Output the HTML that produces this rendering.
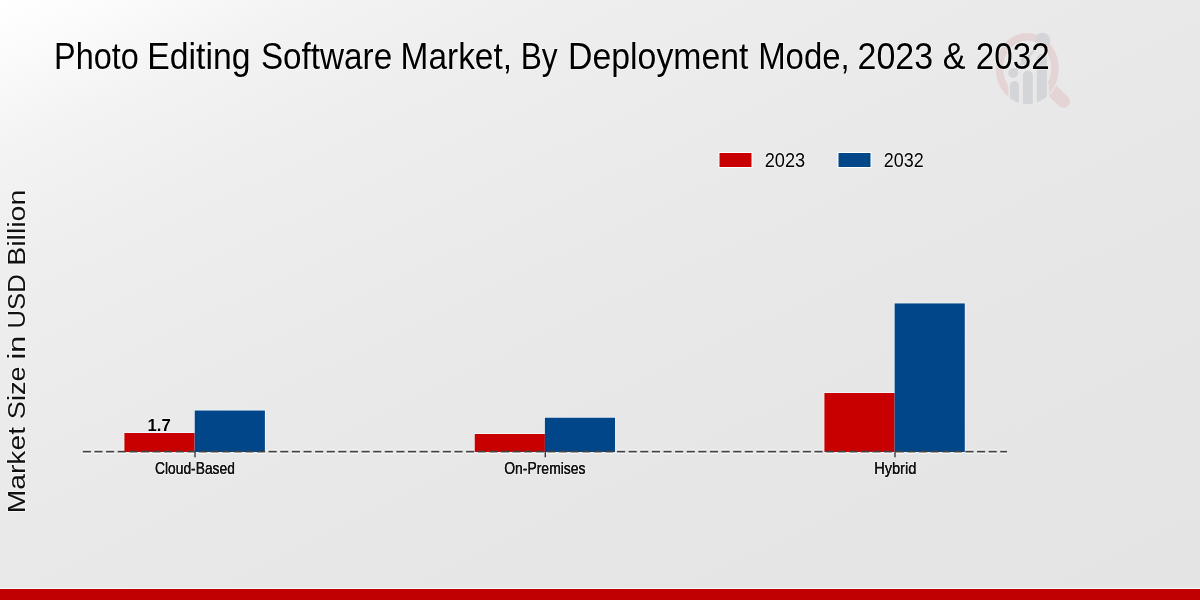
<!DOCTYPE html>
<html>
<head>
<meta charset="utf-8">
<style>
html,body{margin:0;padding:0;width:1200px;height:600px;overflow:hidden;background:#e8e8e8;}
svg{display:block;will-change:transform;}
text{font-family:"Liberation Sans", sans-serif;paint-order:stroke;stroke:#fff;stroke-opacity:0.55;stroke-width:1.6px;stroke-linejoin:round;}
.emb text{stroke:#111;stroke-opacity:1;stroke-width:0.22px;paint-order:normal;}
</style>
</head>
<body>
<svg width="1200" height="600" viewBox="0 0 1200 600">
  <defs>
    <linearGradient id="bg" x1="0" y1="0" x2="459.4" y2="956" gradientUnits="userSpaceOnUse">
      <stop offset="0" stop-color="rgb(255,255,255)"/>
      <stop offset="0.051" stop-color="rgb(251,251,251)"/>
      <stop offset="0.131" stop-color="rgb(243,243,243)"/>
      <stop offset="0.236" stop-color="rgb(238,238,238)"/>
      <stop offset="0.468" stop-color="rgb(233,233,233)"/>
      <stop offset="0.703" stop-color="rgb(230,230,230)"/>
      <stop offset="1" stop-color="rgb(228,228,228)"/>
    </linearGradient>
  </defs>
  <rect x="0" y="0" width="1200" height="600" fill="url(#bg)"/>

  <!-- watermark logo -->
  <defs>
    <clipPath id="lcov"><ellipse cx="1027.2" cy="68.5" rx="33.5" ry="37"/></clipPath>
    <clipPath id="lbar"><ellipse cx="1027.2" cy="68.5" rx="32" ry="35.6"/></clipPath>
  </defs>
  <g>
    <line x1="1052.5" y1="90.5" x2="1063.5" y2="101.5" stroke="#e4d4d6" stroke-width="13" stroke-linecap="round"/>
    <ellipse cx="1027.2" cy="68.5" rx="27.75" ry="31.75" fill="none" stroke="url(#bg)" stroke-width="10"/>
    <ellipse cx="1027.2" cy="68.5" rx="27.75" ry="31.75" fill="none" stroke="#e4d4d6" stroke-width="7.5"/>
    <rect x="1008.4" y="84" width="40.5" height="30" fill="url(#bg)" clip-path="url(#lcov)"/>
    <g fill="#d4d5d9" clip-path="url(#lbar)">
      <rect x="1009.9" y="80.9" width="9" height="40" rx="4.5"/>
      <rect x="1022.9" y="70.5" width="9.9" height="50" rx="4.95"/>
      <rect x="1036.8" y="54" width="10.1" height="70" rx="5"/>
    </g>
    <g fill="#d4d5d9">
      <circle cx="1013.2" cy="73" r="5"/>
      <circle cx="1025.6" cy="60" r="5"/>
      <circle cx="1042.6" cy="40.3" r="7.6"/>
    </g>
    <polyline points="1013.2,73 1025.6,60 1042.6,40.3" fill="none" stroke="#d4d5d9" stroke-width="2.6"/>
  </g>

  <!-- title -->
  <g font-size="37" fill="#000">
    <text x="54.07" y="68.8" textLength="84.7" lengthAdjust="spacingAndGlyphs">Photo</text>
    <text x="147.26" y="68.8" textLength="103.22" lengthAdjust="spacingAndGlyphs">Editing</text>
    <text x="260.93" y="68.8" textLength="131.24" lengthAdjust="spacingAndGlyphs">Software</text>
    <text x="400.59" y="68.8" textLength="111.45" lengthAdjust="spacingAndGlyphs">Market,</text>
    <text x="520.73" y="68.8" textLength="36.93" lengthAdjust="spacingAndGlyphs">By</text>
    <text x="568.06" y="68.8" textLength="180.41" lengthAdjust="spacingAndGlyphs">Deployment</text>
    <text x="758.13" y="68.8" textLength="91.55" lengthAdjust="spacingAndGlyphs">Mode,</text>
    <text x="857.59" y="68.8" textLength="75.54" lengthAdjust="spacingAndGlyphs">2023</text>
    <text x="942.84" y="68.8" textLength="22.86" lengthAdjust="spacingAndGlyphs">&amp;</text>
    <text x="975.73" y="68.8" textLength="73.9" lengthAdjust="spacingAndGlyphs">2032</text>
  </g>

  <!-- legend -->
  <rect x="718.5" y="152" width="34" height="16" fill="#fff"/>
  <rect x="719.5" y="153" width="32" height="14" fill="#c80000"/>
  <text x="764.63" y="166.8" font-size="21" fill="#000" textLength="40.51" lengthAdjust="spacingAndGlyphs">2023</text>
  <rect x="837.5" y="152" width="34" height="16" fill="#fff"/>
  <rect x="838.5" y="153" width="32" height="14" fill="#004689"/>
  <text x="883.74" y="166.8" font-size="21" fill="#000" textLength="39.98" lengthAdjust="spacingAndGlyphs">2032</text>

  <!-- baseline halo -->
  <line x1="82.8" y1="451.7" x2="1007" y2="451.7" stroke="#ffffff" stroke-opacity="0.75" stroke-width="4.4" stroke-dasharray="8.15 3.463"/>
  <!-- bars -->
  <g fill="none" stroke="#fbffff" stroke-width="1.3" stroke-opacity="0.9">
    <rect x="124.4" y="433.0" width="70.2" height="19.0"/>
    <rect x="194.7" y="410.5" width="70.2" height="41.5"/>
    <rect x="474.7" y="434.0" width="70.2" height="18.0"/>
    <rect x="544.85" y="417.7" width="70.2" height="34.30000000000001"/>
    <rect x="824.4" y="393.0" width="70.2" height="59.0"/>
    <rect x="894.6" y="303.4" width="70.2" height="148.60000000000002"/>
  </g>
  <g>
    <rect x="124.4" y="433.0" width="70.2" height="19.0" fill="#c80000"/>
    <rect x="194.7" y="410.5" width="70.2" height="41.5" fill="#004689"/>
    <rect x="474.7" y="434.0" width="70.2" height="18.0" fill="#c80000"/>
    <rect x="544.85" y="417.7" width="70.2" height="34.30000000000001" fill="#004689"/>
    <rect x="824.4" y="393.0" width="70.2" height="59.0" fill="#c80000"/>
    <rect x="894.6" y="303.4" width="70.2" height="148.60000000000002" fill="#004689"/>
  </g>

  <!-- baseline dashed -->
  <line x1="82.8" y1="451.7" x2="1007" y2="451.7" stroke="#444" stroke-width="1.8" stroke-dasharray="8.15 3.463"/>
  <!-- ticks -->
  <g stroke="#3a3a3a" stroke-width="1.4">
    <line x1="195" y1="452" x2="195" y2="457.3"/>
    <line x1="545.3" y1="452" x2="545.3" y2="457.3"/>
    <line x1="895" y1="452" x2="895" y2="457.3"/>
  </g>

  <!-- value label -->
  <text x="147.51" y="430.6" font-size="17" font-weight="bold" fill="#000" textLength="23.32" lengthAdjust="spacingAndGlyphs">1.7</text>

  <!-- tick labels -->
  <g font-size="17" fill="#111">
    <text x="154.99" y="473.8" textLength="79.85" lengthAdjust="spacingAndGlyphs">Cloud-Based</text>
    <text x="504.18" y="473.8" textLength="81.38" lengthAdjust="spacingAndGlyphs">On-Premises</text>
    <text x="874.13" y="473.8" textLength="42.24" lengthAdjust="spacingAndGlyphs">Hybrid</text>
  </g>
  <g font-size="17" fill="#111" class="emb">
    <text x="154.99" y="473.8" textLength="79.85" lengthAdjust="spacingAndGlyphs">Cloud-Based</text>
    <text x="504.18" y="473.8" textLength="81.38" lengthAdjust="spacingAndGlyphs">On-Premises</text>
    <text x="874.13" y="473.8" textLength="42.24" lengthAdjust="spacingAndGlyphs">Hybrid</text>
  </g>

  <!-- y label -->
  <g transform="translate(24.75,600) rotate(-90)" font-size="23" fill="#111">
    <text x="86.86" y="0" textLength="86.1" lengthAdjust="spacingAndGlyphs">Market</text>
    <text x="180.82" y="0" textLength="52.76" lengthAdjust="spacingAndGlyphs">Size</text>
    <text x="240.52" y="0" textLength="23.64" lengthAdjust="spacingAndGlyphs">in</text>
    <text x="271.55" y="0" textLength="54.14" lengthAdjust="spacingAndGlyphs">USD</text>
    <text x="334.23" y="0" textLength="76.07" lengthAdjust="spacingAndGlyphs">Billion</text>
  </g>

  <!-- bottom band -->
  <rect x="0" y="588" width="1200" height="1" fill="#f4fbfb"/>
  <rect x="0" y="589" width="1200" height="11" fill="#c00000"/>
</svg>
</body>
</html>
